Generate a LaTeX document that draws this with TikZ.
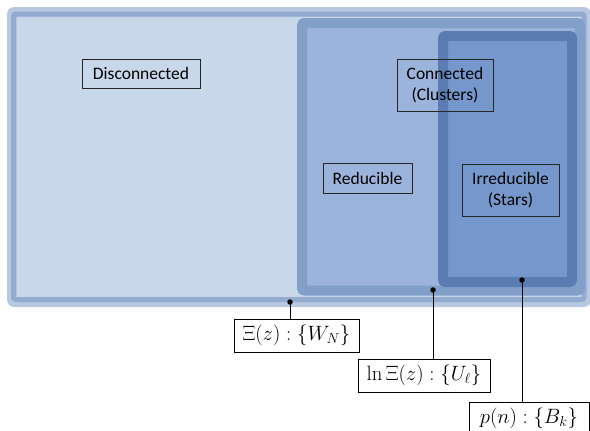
\documentclass[tikz,border=0pt]{standalone}
\usepackage[no-math]{fontspec}
\usepackage{amsmath}
\setmainfont{Carlito}
\usetikzlibrary{calc}
\definecolor{set_out}{RGB}{201, 215, 234}
\definecolor{set_outb}{RGB}{148, 171, 208}
\definecolor{set_outl}{RGB}{184, 200, 225}
\definecolor{set_con}{RGB}{156, 180, 220}
\definecolor{set_conb}{RGB}{129, 159, 201}
\definecolor{set_irr}{RGB}{117, 151, 203}
\definecolor{set_irrb}{RGB}{91, 124, 176}
\tikzstyle{region}=[rounded corners=2.5pt,line width=10pt]
\tikzstyle{tag}=[draw=black!85,line width=0.8pt,inner sep=0pt,align=center,
  font=\fontsize{17.5}{21}\selectfont]
\tikzstyle{gf}=[draw=black,line width=0.8pt,inner sep=0pt,fill=white,
  minimum height=33pt,font=\fontsize{20}{22}\selectfont]
\tikzstyle{pin}=[circle,fill=black,inner sep=0pt,minimum size=5.5pt]
\tikzstyle{none}=[]

\begin{document}
\begin{tikzpicture}[x=1pt,y=-1pt]
            \useasboundingbox[fill=white] (0, 0) rectangle (590, 431);
            \draw [style=region,draw=set_outl,fill=set_out] (12, 12) rectangle (586, 302);
            \draw [style=region,line width=5pt,draw=set_outb] (13.5, 14) rectangle (584, 299.5);
            \draw [style=region,draw=set_conb,fill=set_con] (302, 23) rectangle (580, 290.5);
            \draw [style=region,draw=set_irrb,fill=set_irr] (443, 36) rectangle (572, 282);
            \node [style=tag,minimum width=118pt,minimum height=29pt] (0) at (141, 73.5) {Disconnected};
            \node [style=tag,minimum width=96pt,minimum height=52pt] (1) at (445, 85) {Connected\\(Clusters)};
            \node [style=tag,minimum width=89pt,minimum height=30pt] (2) at (367.5, 178) {Reducible};
            \node [style=tag,minimum width=97pt,minimum height=52pt] (3) at (510.5, 190) {Irreducible\\(Stars)};
            \node [style=pin] (4) at (290, 302) {};
            \node [style=pin] (5) at (433, 290) {};
            \node [style=pin] (6) at (522, 280) {};
            \node [style=gf,minimum width=125pt] (7) at (296.5, 335.5) {$\Xi(z) : \{W_N\}$};
            \node [style=gf,minimum width=132pt] (8) at (424, 375.5) {$\ln\Xi(z) : \{U_\ell\}$};
            \node [style=gf,minimum width=120pt] (9) at (529, 418.5) {$p(n) : \{B_k\}$};
            \draw [line width=0.8pt] (4.center) to (4.center |- 7.north);
            \draw [line width=0.8pt] (5.center) to (5.center |- 8.north);
            \draw [line width=0.8pt] (6.center) to (6.center |- 9.north);
    \end{tikzpicture}
\end{document}
